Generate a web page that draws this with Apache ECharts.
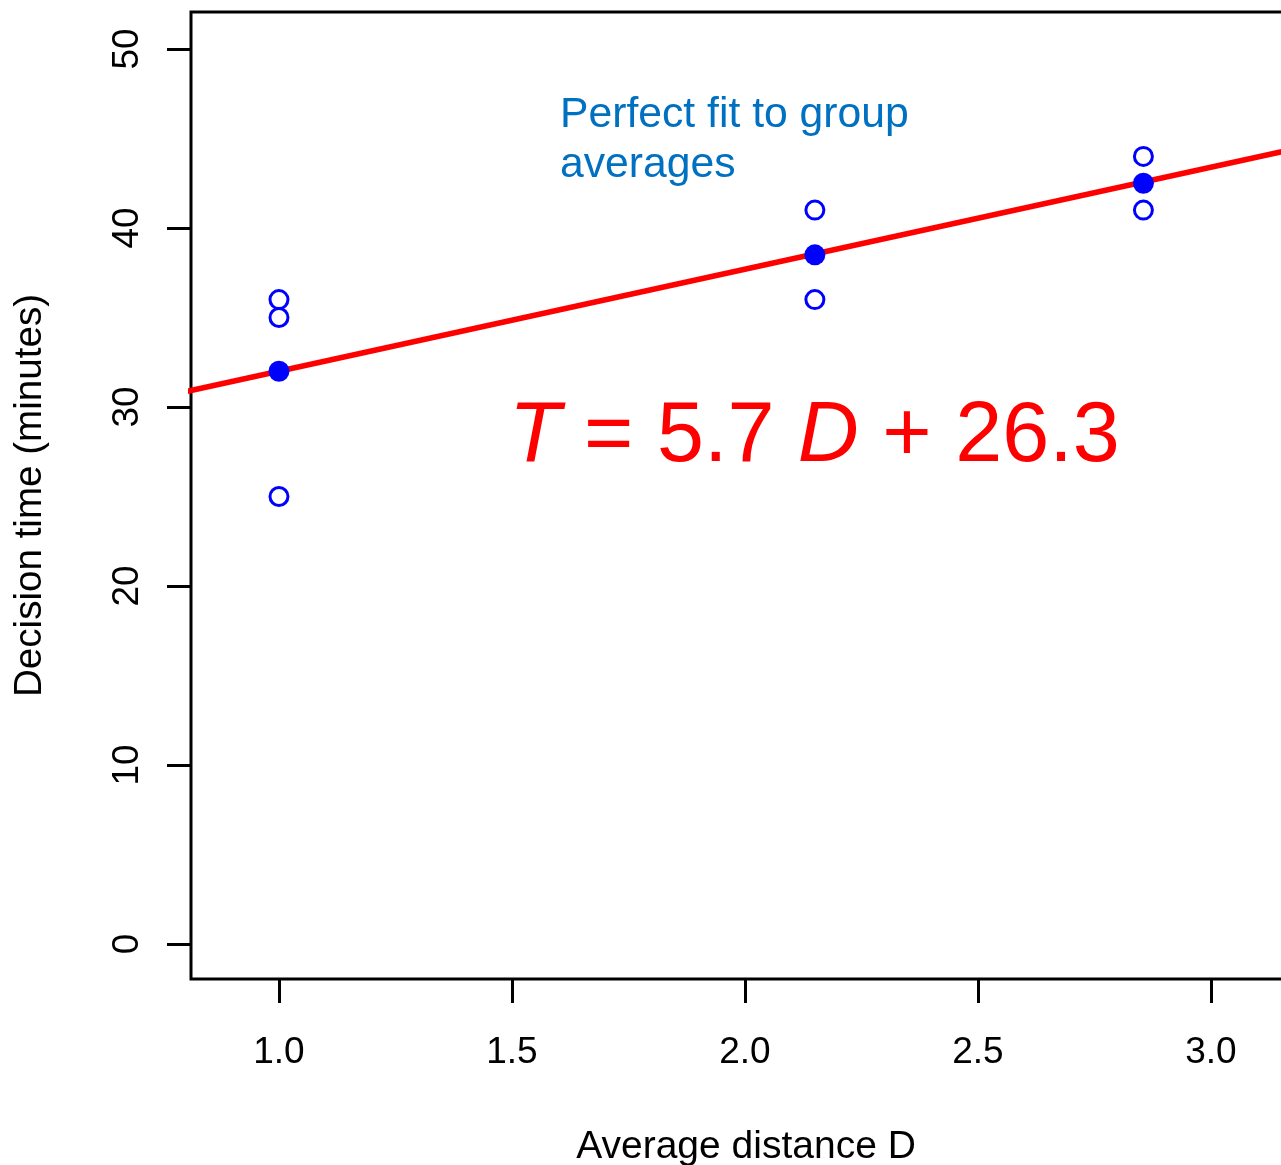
<!DOCTYPE html>
<html>
<head>
<meta charset="utf-8">
<script src="https://cdn.jsdelivr.net/npm/echarts@6/dist/echarts.min.js"></script>
<style>
html,body{margin:0;padding:0;background:#fff;}
#chart{width:1281px;height:1165px;}
</style>
</head>
<body>
<div id="chart"></div>
<script>
// ---- data ----
const groupD = [1.0, 2.15, 2.855];
const individualPoints = [
  [1.0, 36], [1.0, 35], [1.0, 25],
  [2.15, 41], [2.15, 36],
  [2.855, 44], [2.855, 41]
];
const groupMeans = [32, 38.5, 42.5];
const fitX = [0.79, 3.26];
const fitY = [30.8, 44.88];
const xTicks = [1.0, 1.5, 2.0, 2.5, 3.0];
const yTicks = [0, 10, 20, 30, 40, 50];
const xTitle = 'Average distance D';
const yTitle = 'Decision time (minutes)';
const noteText = ['Perfect fit to group', 'averages'];

const FONT = '"Liberation Sans", Arial, Helvetica, sans-serif';

const meanPoints = groupD.map((d, i) => [d, groupMeans[i]]);
const fitLine = fitX.map((x, i) => [x, fitY[i]]);

const chart = echarts.init(document.getElementById('chart'), null, {renderer: 'canvas'});
chart.setOption({
  animation: false,
  backgroundColor: '#ffffff',
  grid: {
    left: 191, top: 12, right: -40, bottom: 186,
    containLabel: false,
    outerBoundsMode: 'none',
    show: true, borderColor: '#000', borderWidth: 3, backgroundColor: 'transparent'
  },
  xAxis: {
    type: 'value',
    min: 0.8112, max: 3.2361,
    splitLine: {show: false},
    axisLine: {show: false, onZero: false},
    axisTick: {show: true, length: 24, lineStyle: {color: '#000', width: 3}, customValues: xTicks},
    axisLabel: {
      customValues: xTicks,
      formatter: v => Number(v).toFixed(1),
      fontFamily: FONT, fontSize: 37, color: '#000', margin: 55
    },
    name: xTitle, nameLocation: 'middle', nameGap: 149,
    nameTextStyle: {fontFamily: FONT, fontSize: 39, color: '#000', padding: [0, 20, 0, 0]}
  },
  yAxis: {
    type: 'value',
    min: -1.955, max: 52.067,
    splitLine: {show: false},
    axisLine: {show: false, onZero: false},
    axisTick: {show: true, length: 24, lineStyle: {color: '#000', width: 3}, customValues: yTicks},
    axisLabel: {
      customValues: yTicks,
      rotate: 90,
      fontFamily: FONT, fontSize: 37, color: '#000', margin: 45
    },
    name: yTitle, nameLocation: 'middle', nameGap: 141, nameRotate: 90,
    nameTextStyle: {fontFamily: FONT, fontSize: 38.6, color: '#000'}
  },
  series: [
    {
      type: 'line',
      data: fitLine,
      showSymbol: false,
      symbol: 'none',
      clip: true,
      lineStyle: {color: '#ff0000', width: 5.5},
      z: 2
    },
    {
      type: 'scatter',
      data: individualPoints,
      symbol: 'circle',
      symbolSize: 18,
      itemStyle: {color: 'rgba(255,255,255,0)', borderColor: '#0000ff', borderWidth: 3, opacity: 1},
      z: 3
    },
    {
      type: 'scatter',
      data: meanPoints,
      symbol: 'circle',
      symbolSize: 21,
      itemStyle: {color: '#0000ff', opacity: 1},
      z: 4
    }
  ],
  graphic: [
    {
      type: 'text', left: 560, top: 90, z: 10,
      style: {
        text: noteText.join('\n'),
        fontFamily: FONT, fontSize: 42.7, lineHeight: 50, fill: '#0070c0'
      }
    },
    {
      type: 'text', left: 509, top: 395, z: 10,
      style: {
        text: '{i|T} = 5.7 {i|D} + 26.3',
        fontFamily: FONT, fontSize: 84.5, fill: '#ff0000',
        rich: {
          i: {fontFamily: FONT, fontSize: 84.5, fontStyle: 'italic', fill: '#ff0000'}
        }
      }
    }
  ]
});
</script>
</body>
</html>
